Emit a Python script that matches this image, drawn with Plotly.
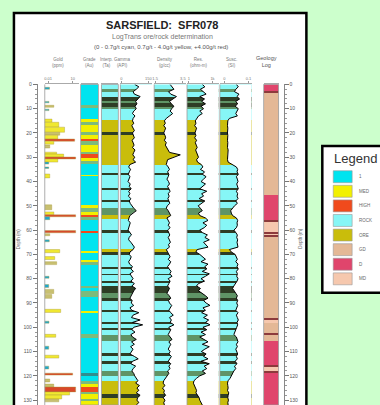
import plotly.graph_objects as go

W, H = 380, 405
HOLE = 132.0          # bottom of visible log (m)
TOP_PX = 82           # pixel row of depth 0

# ---------------- data ----------------
depth_ticks = [0, 10, 20, 30, 40, 50, 60, 70, 80, 90, 100, 110, 120, 130]

grade_top = [0, 8.6, 9.8, 14.3, 15.6, 16.8, 19.7, 20.9, 22.5, 23.4, 25.0, 27.9, 28.7, 30.3,
             31.6, 32.8, 37.2, 37.8, 49.6, 50.8, 52.5, 53.7, 54.5, 55.7, 60.2, 61.3, 68.4,
             69.3, 72.1, 73.0, 74.2, 83.2, 84.0, 85.2, 87.5, 93.4, 94.3, 102.9, 104.5, 118.9,
             120.0, 122.1, 123.4, 124.6, 126.6, 127.5, 129.5, 130.3]
grade_class = ['C', 'G', 'C', 'Y', 'G', 'Y', 'G', 'Y', 'H', 'G', 'Y', 'G', 'H', 'Y',
               'G', 'C', 'Y', 'C', 'Y', 'G', 'Y', 'H', 'G', 'C', 'H', 'C', 'Y',
               'C', 'Y', 'G', 'C', 'G', 'C', 'G', 'C', 'Y', 'C', 'G', 'C', 'T',
               'C', 'G', 'Y', 'H', 'G', 'Y', 'G', 'Y']

interp_top = [0, 2, 3.3, 5.3, 7, 7.8, 9.4, 10.2, 14.8, 19.5, 20.9, 33.2, 36.5, 37.3, 42.6,
              43.4, 47.5, 48.3, 51, 53.7, 55.3, 60, 61.3, 67.6, 68.9, 70.1, 75, 75.8, 78,
              78.6, 81, 81.6, 82.8, 86, 88, 89.3, 93, 93.6, 98, 98.6, 100.4, 101, 103,
              105.7, 110.5, 111.9, 113.9, 115.2, 118, 120.1, 122, 127.5, 129.1]
interp_class = ['R', 'G', 'R', 'D', 'G', 'D', 'G', 'R', 'O', 'D', 'O', 'R', 'D', 'R', 'D',
                'R', 'D', 'R', 'G', 'O', 'R', 'D', 'R', 'O', 'D', 'R', 'D', 'R', 'D',
                'R', 'D', 'R', 'D', 'G', 'D', 'R', 'D', 'R', 'D', 'R', 'D', 'R', 'G',
                'R', 'D', 'R', 'D', 'R', 'G', 'R', 'O', 'D', 'O']

geology_top = [0, 2.9, 3.4, 45.5, 55.7, 56.6, 60.7, 61.5, 61.9, 62.7, 96.3, 97.1, 98.4,
               102.5, 103.3, 105.7, 115.6, 116.2, 118.0, 118.9]
geology_class = ['D', 'L', 'GD', 'D', 'L', 'MD', 'L', 'MD', 'L', 'GD', 'L', 'MD', 'GD',
                 'L', 'GD', 'D', 'L', 'MD', 'L', 'D']

gold_top = [1.2, 7.0, 8.6, 10.2, 14.3, 15.6, 17.6, 19.7, 20.9, 22.5, 23.4, 25.0, 27.9, 28.7,
            29.9, 30.7, 32.0, 34.0, 36.9, 49.6, 52.5, 53.7, 54.5, 60.2, 61.5, 64.0, 68.0,
            70.9, 73.0, 79.0, 82.4, 84.4, 86.5, 92.6, 97.5, 102.9, 107.8, 111.5, 116.0,
            118.9, 121.3, 123.4, 124.6, 126.6, 127.9, 129.5]
gold_bottom = [2.0, 7.6, 9.4, 10.8, 15.6, 17.6, 19.7, 20.9, 22.5, 23.4, 24.6, 26.2, 28.7, 29.9,
               30.7, 32.0, 32.8, 34.6, 38.5, 51.6, 53.7, 54.5, 55.7, 61.1, 62.3, 64.8, 69.3,
               72.1, 74.2, 79.8, 83.6, 86.1, 88.1, 93.9, 98.3, 104.1, 109.0, 112.7, 117.2,
               119.7, 122.5, 124.6, 126.6, 127.9, 129.5, 130.7]
gold_ppm = [0.015, 0.013, 0.05, 0.013, 0.03, 0.2, 1.0, 0.26, 0.15, 16.6, 0.05, 0.016, 0.11, 0.78,
            22, 0.15, 0.012, 0.012, 0.016, 0.028, 0.05, 22, 0.016, 22, 0.016, 0.014, 0.26,
            0.064, 0.11, 0.013, 0.012, 0.049, 0.028, 0.34, 0.013, 0.085, 0.012, 0.2, 0.012,
            9.5, 0.016, 0.049, 22, 4.1, 0.45, 0.2]
gold_class = ['C', 'C', 'K', 'C', 'Y', 'Y', 'Y', 'K', 'Y', 'H', 'Y', 'K', 'Y', 'Y',
              'H', 'Y', 'C', 'C', 'Y', 'K', 'Y', 'H', 'C', 'H', 'K', 'C', 'Y',
              'Y', 'K', 'C', 'C', 'K', 'K', 'Y', 'C', 'Y', 'C', 'Y', 'C',
              'H', 'K', 'K', 'H', 'Y', 'Y', 'K']

curve_depth = list(range(0, 133))   # 1 m samples
gamma = [45, 58, 50, 40, 44, 62, 55, 48, 52, 46,
         50, 42, 38, 46, 40, 38, 42, 36, 40, 44,
         38, 41, 44, 37, 40, 43, 38, 46, 42, 39,
         45, 40, 48, 30, 26, 32, 28, 25, 30, 27,
         24, 31, 28, 34, 26, 30, 25, 33, 28, 31,
         36, 42, 50, 38, 30, 27, 25, 31, 29, 26,
         24, 30, 35, 27, 26, 33, 38, 44, 40, 30,
         28, 34, 31, 26, 29, 38, 33, 41, 30, 35,
         40, 33, 44, 36, 48, 42, 38, 33, 30, 37,
         34, 42, 30, 36, 58, 40, 35, 62, 38, 70,
         42, 36, 46, 33, 38, 50, 35, 44, 32, 40,
         36, 30, 44, 56, 38, 33, 48, 40, 36, 42,
         45, 50, 55, 48, 60, 52, 58, 50, 62, 54,
         52, 58, 50]
density = [50, 56, 62, 45, 52, 70, 58, 48, 54, 62,
           55, 50, 58, 46, 38, 32, 35, 30, 36, 33,
           30, 34, 36, 32, 38, 35, 40, 44, 48, 82,
           60, 42, 40, 38, 44, 48, 42, 46, 44, 40,
           45, 48, 42, 46, 50, 44, 47, 43, 46, 49,
           41, 38, 44, 48, 52, 40, 45, 48, 44, 50,
           42, 46, 49, 44, 47, 51, 45, 48, 38, 42,
           46, 50, 44, 52, 48, 42, 47, 53, 49, 56,
           44, 50, 46, 42, 48, 44, 40, 47, 52, 45,
           48, 55, 50, 46, 52, 60, 48, 54, 50, 62,
           46, 52, 48, 44, 50, 56, 46, 52, 48, 44,
           50, 46, 54, 48, 44, 52, 46, 50, 42, 46,
           40, 36, 30, 28, 34, 26, 32, 30, 36, 28,
           34, 30, 32]
resistivity = [48, 56, 42, 52, 60, 40, 55, 46, 58, 44,
               52, 40, 48, 36, 30, 26, 28, 24, 30, 27,
               25, 28, 24, 30, 26, 29, 32, 27, 30, 34,
               36, 30, 33, 45, 50, 42, 55, 48, 60, 52,
               44, 58, 50, 40, 62, 46, 52, 38, 56, 44,
               35, 42, 48, 36, 40, 58, 66, 50, 62, 54,
               40, 48, 64, 56, 70, 52, 60, 66, 32, 28,
               40, 50, 58, 44, 66, 56, 62, 48, 70, 58,
               44, 55, 36, 30, 42, 36, 48, 58, 66, 52,
               60, 72, 50, 58, 46, 64, 52, 68, 58, 72,
               50, 62, 44, 58, 40, 55, 66, 48, 70, 56,
               45, 60, 52, 66, 44, 70, 54, 62, 48, 58,
               40, 30, 22, 20, 24, 26, 30, 28, 34, 38,
               40, 44, 48]
susceptibility = [52, 58, 50, 46, 60, 54, 62, 50, 56, 48,
                  58, 54, 50, 55, 30, 25, 24, 24, 25, 24,
                  24, 25, 24, 24, 25, 24, 24, 26, 25, 24,
                  25, 24, 26, 40, 52, 56, 54, 58, 52, 55,
                  57, 53, 55, 58, 52, 56, 54, 57, 50, 55,
                  46, 40, 34, 36, 40, 52, 56, 54, 55, 52,
                  44, 50, 55, 53, 56, 54, 55, 57, 30, 36,
                  48, 52, 55, 50, 57, 54, 58, 52, 55, 53,
                  57, 54, 48, 44, 40, 44, 50, 55, 52, 56,
                  53, 56, 54, 50, 57, 52, 55, 58, 54, 56,
                  53, 50, 47, 44, 52, 55, 57, 52, 55, 50,
                  53, 56, 52, 55, 48, 54, 46, 50, 44, 40,
                  38, 32, 26, 24, 25, 26, 24, 28, 26, 25,
                  27, 25, 26]

legend_labels = ["1", "MED", "HIGH", "ROCK", "ORE", "GD", "D", "MD"]

# ---------------- styles ----------------
grade_colors = {'C': '#00e4ef', 'Y': '#f2f000', 'H': '#f04a1c', 'G': '#7cbb7c', 'T': '#2f8f8f'}
interp_colors = {'R': '#86f6f6', 'O': '#c9bd0b', 'D': '#2e3d25', 'G': '#5f9466'}
geology_colors = {'GD': '#e4b896', 'D': '#e0456c', 'MD': '#f6c8ae', 'L': '#8c3a3c'}
gold_colors = {'C': '#1aa8d0', 'Y': '#f0e830', 'K': '#c8c070', 'H': '#d9482a'}
legend_colors = ['#00e4ef', '#f2f000', '#f04a1c', '#86f6f6', '#c9bd0b', '#e4b896', '#e0456c', '#f6c8ae']
FONT = "Liberation Sans, Arial, sans-serif"


def px(x):
    return x / W


def py(y):
    return 1 - y / H


fig = go.Figure()


def interval_bar(tops, classes, colors, xaxis, xmid, xwidth):
    bottoms = tops[1:] + [HOLE]
    thick = [b - t for t, b in zip(tops, bottoms)]
    return go.Bar(x=[xmid] * len(tops), y=thick, base=tops, width=[xwidth] * len(tops),
                  marker=dict(color=[colors[c] for c in classes], line=dict(width=0)),
                  xaxis=xaxis, yaxis='y', hoverinfo='skip', showlegend=False)


# gold track (x)
gold_mid = [(t + b) / 2 for t, b in zip(gold_top, gold_bottom)]
gold_thk = [b - t for t, b in zip(gold_top, gold_bottom)]
fig.add_trace(go.Bar(orientation='h', y=gold_mid, x=gold_ppm, width=gold_thk,
                     marker=dict(color=[gold_colors[c] for c in gold_class],
                                 line=dict(color='#a89a3a', width=0.4)),
                     xaxis='x', yaxis='y', hoverinfo='skip', showlegend=False))
# grade column (x2), interp column (x3), geology (x8)
fig.add_trace(interval_bar(grade_top, grade_class, grade_colors, 'x2', 0.5, 1))
fig.add_trace(interval_bar(interp_top, interp_class, interp_colors, 'x3', 0.5, 1))
fig.add_trace(interval_bar(geology_top, geology_class, geology_colors, 'x8', 0.5, 1))

# curve tracks
for ax, vals in [('x4', gamma), ('x5', density), ('x6', resistivity), ('x7', susceptibility)]:
    fig.add_trace(interval_bar(interp_top, interp_class, interp_colors, ax, 50, 100))
    fig.add_trace(go.Scatter(x=vals + [100, 100], y=curve_depth + [curve_depth[-1], curve_depth[0]],
                             fill='toself', fillcolor='white', mode='none',
                             xaxis=ax, yaxis='y', hoverinfo='skip', showlegend=False))
    fig.add_trace(go.Scatter(x=vals, y=curve_depth, mode='lines',
                             line=dict(color='black', width=1.0),
                             xaxis=ax, yaxis='y', hoverinfo='skip', showlegend=False))

# invisible trace for the right-hand depth axis
fig.add_trace(go.Scatter(x=[0.5], y=[0], mode='markers', marker=dict(opacity=0),
                         xaxis='x8', yaxis='y2', hoverinfo='skip', showlegend=False))

ydom = [0, 1 - TOP_PX / H]
tickfont = dict(size=4, color='#777', family=FONT)


def track_axis(x0, x1, rng, tickvals=None, ticktext=None, typ='linear'):
    d = dict(domain=[px(x0), px(x1)], anchor='y', range=rng, type=typ, side='top',
             showgrid=False, zeroline=False, showline=True, linecolor='#aaaaaa', linewidth=1,
             fixedrange=True)
    if tickvals:
        d.update(tickvals=tickvals, ticktext=ticktext, ticks='outside', ticklen=2,
                 tickcolor='#999', tickfont=tickfont, showticklabels=True)
    else:
        d.update(showticklabels=False, ticks='')
    return d


depth_axis = dict(domain=ydom, range=[HOLE, 0], anchor='free', tick0=0, dtick=10,
                  ticks='outside', ticklen=4, tickcolor='#777',
                  tickfont=dict(size=5, color='#555', family=FONT),
                  showline=True, linecolor='#888', linewidth=1, showgrid=False, zeroline=False,
                  minor=dict(tick0=0, dtick=2, ticks='outside', ticklen=2, tickcolor='#999',
                             showgrid=False),
                  fixedrange=True)

fig.update_layout(
    width=W, height=H, margin=dict(l=0, r=0, t=0, b=0),
    paper_bgcolor='#ccffcc', plot_bgcolor='rgba(0,0,0,0)',
    barmode='overlay', bargap=0, showlegend=False,
    font=dict(family=FONT),
    xaxis=track_axis(43, 77, [-2.4, 1.7], [0.01, 10], ['0.01', '10'], typ='log'),
    xaxis2=track_axis(79, 97, [0, 1]),
    xaxis3=track_axis(100, 117, [0, 1]),
    xaxis4=track_axis(119, 151, [0, 100], [3, 88], ['0', '150']),
    xaxis5=track_axis(153, 185, [0, 100], [3, 90], ['1.5', '3.5']),
    xaxis6=track_axis(186, 218, [0, 100], [6, 80], ['1', '1k']),
    xaxis7=track_axis(219, 251, [0, 100], [14, 90], ['0', '0.1']),
    xaxis8=track_axis(263, 278, [0, 1]),
    yaxis=dict(depth_axis, position=px(35), side='left'),
    yaxis2=dict(depth_axis, position=px(283), side='right', overlaying='y'),
)

shapes = []
# white panel and legend box
shapes.append(dict(type='rect', xref='paper', yref='paper', x0=px(12), x1=px(306), y0=py(420), y1=py(10),
                   fillcolor='white', line=dict(color='black', width=2.5), layer='below'))
shapes.append(dict(type='rect', xref='paper', yref='paper', x0=px(322), x1=px(392), y0=py(292), y1=py(144),
                   fillcolor='white', line=dict(color='black', width=2.5), layer='below'))
# column frames
for ax in ['x2', 'x3', 'x8']:
    shapes.append(dict(type='rect', xref=ax + ' domain', yref='y domain', x0=0, x1=1, y0=0, y1=1,
                       line=dict(color='#999999', width=0.8), fillcolor='rgba(0,0,0,0)'))
for ax in ['x', 'x4', 'x5', 'x6', 'x7']:
    shapes.append(dict(type='line', xref=ax + ' domain', yref='y domain', x0=0, x1=0, y0=0, y1=1,
                       line=dict(color='#999999', width=0.8)))
# legend swatches
for i, c in enumerate(legend_colors):
    y0 = 169 + i * 14.7
    shapes.append(dict(type='rect', xref='paper', yref='paper', x0=px(333), x1=px(352),
                       y0=py(y0 + 12), y1=py(y0), fillcolor=c, line=dict(color='#999', width=0.6)))

ann = []


def text(x, y, s, size, color='#555', bold=False, anchor='center', angle=0):
    if bold:
        s = '<b>' + s + '</b>'
    ann.append(dict(x=px(x), y=py(y), xref='paper', yref='paper', text=s, showarrow=False,
                    font=dict(size=size, color=color, family=FONT), xanchor=anchor,
                    yanchor='middle', textangle=angle, align='center'))


text(161, 22, 'SARSFIELD:  SFR078', 11, '#222', bold=True)
text(161, 34, 'LogTrans ore/rock determination', 7, '#777')
text(160, 44, '(0 - 0.7g/t cyan, 0.7g/t - 4.0g/t yellow, +4.00g/t red)', 6, '#555')
headers = [(56, 'Gold<br>(ppm)'), (88, 'Grade<br>(Au)'), (105, 'Interp.<br>(Ta)'),
           (121, 'Gamma<br>(API)'), (164, 'Density<br>(g/cc)'), (198, 'Res.<br>(ohm-m)'),
           (231, 'Susc.<br>(SI)')]
for x, s in headers:
    text(x, 60, s, 4.5, '#777')
text(266, 59, 'Geology<br>Log', 5.5, '#555')
text(16, 237, 'Depth (m)', 4.5, '#666', angle=-90)
text(300, 237, 'Depth (m)', 4.5, '#666', angle=-90)
text(332, 157, 'Legend', 13, '#333', anchor='left')
for i, lab in enumerate(legend_labels):
    text(357, 175 + i * 14.7, lab, 4.5, '#666', anchor='left')

fig.update_layout(shapes=shapes, annotations=ann)
fig.write_html("out.html", config={'displayModeBar': False, 'staticPlot': True},
               post_script="document.body.style.margin='0';document.body.style.background='#ccffcc';")
